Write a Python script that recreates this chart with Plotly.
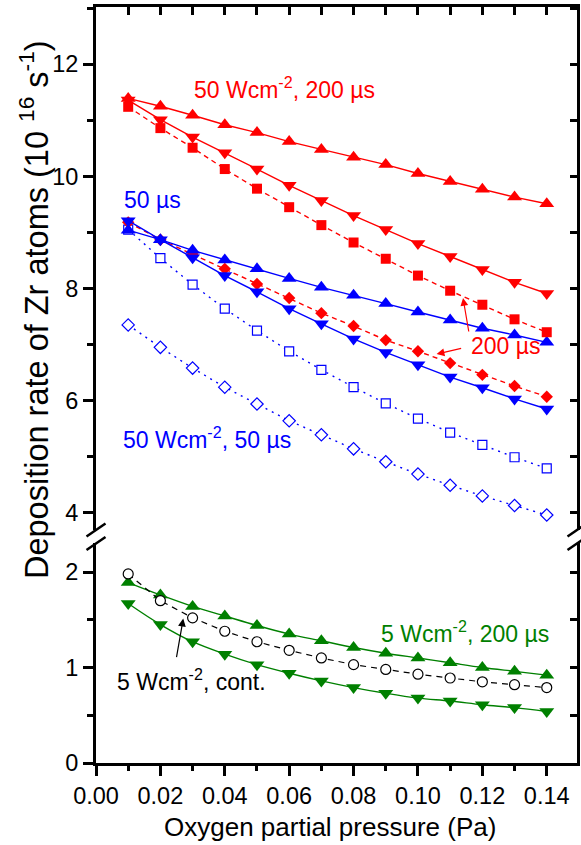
import plotly.graph_objects as go

# ---------------- data ----------------
pressure = [0.01, 0.02, 0.03, 0.04, 0.05, 0.06, 0.07, 0.08, 0.09, 0.10, 0.11, 0.12, 0.13, 0.14]

red_up = [11.39, 11.25, 11.09, 10.92, 10.78, 10.62, 10.48, 10.34, 10.21, 10.05, 9.91, 9.77, 9.63, 9.51]
red_down = [11.36, 11.01, 10.70, 10.42, 10.13, 9.84, 9.57, 9.30, 9.05, 8.80, 8.57, 8.34, 8.11, 7.91]
red_square = [11.24, 10.86, 10.51, 10.13, 9.78, 9.45, 9.13, 8.82, 8.53, 8.23, 7.96, 7.71, 7.45, 7.22]
red_diamond = [9.18, 8.87, 8.61, 8.35, 8.08, 7.83, 7.56, 7.33, 7.08, 6.88, 6.67, 6.46, 6.26, 6.07]

blue_up = [9.04, 8.87, 8.68, 8.51, 8.35, 8.18, 8.02, 7.88, 7.73, 7.58, 7.44, 7.29, 7.17, 7.04]
blue_down = [9.21, 8.87, 8.55, 8.23, 7.94, 7.64, 7.37, 7.10, 6.86, 6.64, 6.42, 6.23, 6.03, 5.85]
blue_open_square = [9.05, 8.54, 8.07, 7.64, 7.25, 6.88, 6.55, 6.24, 5.95, 5.68, 5.43, 5.21, 4.99, 4.79]
blue_open_diamond = [7.35, 6.95, 6.58, 6.24, 5.94, 5.64, 5.39, 5.14, 4.91, 4.69, 4.49, 4.30, 4.13, 3.96]

green_up = [1.89, 1.76, 1.64, 1.54, 1.44, 1.35, 1.28, 1.21, 1.15, 1.10, 1.05, 1.00, 0.96, 0.92]
green_down = [1.67, 1.45, 1.27, 1.14, 1.03, 0.94, 0.86, 0.79, 0.73, 0.68, 0.65, 0.61, 0.58, 0.54]
black_circle = [1.98, 1.70, 1.52, 1.38, 1.27, 1.18, 1.10, 1.03, 0.98, 0.93, 0.89, 0.85, 0.82, 0.79]

# ---------------- styles ----------------
RED = "#FF0000"
BLUE = "#0000FF"
GREEN = "#008000"
BLACK = "#000000"
FONT = "Liberation Sans, Arial, sans-serif"

fig = go.Figure()


def add(y, color, symbol, dash, yaxis, size, fill=None, shape="linear", lw=1.4, mlw=0):
    fig.add_trace(go.Scatter(
        x=pressure, y=y, mode="lines+markers", yaxis=yaxis, xaxis="x",
        line=dict(color=color, width=lw, dash=dash, shape=shape),
        marker=dict(symbol=symbol, size=size, color=fill if fill else color,
                    line=dict(color=color, width=mlw)),
        showlegend=False, cliponaxis=False))


TRI = 13

# top panel (y2)
add(blue_open_diamond, BLUE, "diamond", "2px,5px", "y2", 9.5, fill="white", mlw=1.2)
add(blue_open_square, BLUE, "square", "2px,5px", "y2", 9, fill="white", mlw=1.2)
add(red_diamond, RED, "diamond", "5px,4px", "y2", 9.5)
add(blue_down, BLUE, "triangle-down", "solid", "y2", TRI)
add(blue_up, BLUE, "triangle-up", "solid", "y2", TRI)
add(red_square, RED, "square", "5px,4px", "y2", 10)
add(red_down, RED, "triangle-down", "solid", "y2", TRI)
add(red_up, RED, "triangle-up", "solid", "y2", TRI)

# bottom panel (y)
add(green_down, GREEN, "triangle-down", "solid", "y", TRI, shape="spline")
add(green_up, GREEN, "triangle-up", "solid", "y", TRI, shape="spline")
add(black_circle, BLACK, "circle", "6px,5px", "y", 10, fill="white", mlw=1.2, lw=1.2)

# empty traces so that the mirrored frame axes (top / right) are drawn
for xa, ya in (("x2", "y2"), ("x", "y3"), ("x", "y4")):
    fig.add_trace(go.Scatter(x=[], y=[], xaxis=xa, yaxis=ya, showlegend=False, hoverinfo="skip"))

XR = [0, 0.1494]
YB = [0, 2.304]
YT = [3.69, 13.02]
tickfont = dict(family=FONT, size=23.5, color="black")

common_line = dict(showline=True, linecolor="black", linewidth=3, showgrid=False, zeroline=False)

fig.update_layout(
    width=581, height=845,
    margin=dict(l=96, r=4, t=7, b=82, autoexpand=False),
    paper_bgcolor="white", plot_bgcolor="white",
    font=dict(family=FONT, color="black"),
    xaxis=dict(domain=[0, 1], anchor="y", range=XR, tick0=0, dtick=0.02, tickformat=".2f",
               ticks="outside", ticklen=10, tickwidth=2.5, tickcolor="black", tickfont=tickfont,
               minor=dict(dtick=0.01, tick0=0, ticks="outside", ticklen=5, tickwidth=2.5, tickcolor="black"),
               automargin=False, **common_line),
    xaxis2=dict(overlaying="x", anchor="y2", side="top", range=XR, tick0=0, dtick=0.01,
                ticks="inside", ticklen=8, tickwidth=2.5, tickcolor="black", showticklabels=False,
                automargin=False, **common_line),
    yaxis=dict(domain=[0, 0.291], anchor="x", range=YB, tick0=0, dtick=1,
               ticks="outside", ticklen=10, tickwidth=2.5, tickcolor="black", tickfont=tickfont,
               minor=dict(dtick=0.5, tick0=0, ticks="outside", ticklen=6, tickwidth=2.5, tickcolor="black"),
               automargin=False, **common_line),
    yaxis2=dict(domain=[0.308, 1], anchor="x", range=YT, tick0=0, dtick=2,
                ticks="outside", ticklen=10, tickwidth=2.5, tickcolor="black", tickfont=tickfont,
                minor=dict(dtick=1, tick0=0, ticks="outside", ticklen=6, tickwidth=2.5, tickcolor="black"),
                automargin=False, **common_line),
    yaxis3=dict(overlaying="y", anchor="x", side="right", range=YB, tick0=0, dtick=0.5,
                ticks="inside", ticklen=7, tickwidth=2.5, tickcolor="black", showticklabels=False,
                automargin=False, **common_line),
    yaxis4=dict(overlaying="y2", anchor="x", side="right", range=YT, tick0=0, dtick=1,
                ticks="inside", ticklen=7, tickwidth=2.5, tickcolor="black", showticklabels=False,
                automargin=False, **common_line),
)

# axis break marks (decorations in paper coordinates)
W, H, L, T = 481.0, 756.0, 96.0, 7.0


def px2paper(px, py):
    return (px - L) / W, (T + H - py) / H


for cx in (96.0, 577.0):
    for cy in (530.0, 543.5):
        x0, y0 = px2paper(cx - 9.5, cy + 6.5)
        x1, y1 = px2paper(cx + 9.5, cy - 6.5)
        fig.add_shape(type="line", xref="paper", yref="paper", x0=x0, y0=y0, x1=x1, y1=y1,
                      line=dict(color="black", width=2.5))

ann_font = 23


def label(text, x, y, yref, color):
    fig.add_annotation(text=text, x=x, y=y, xref="x", yref=yref, xanchor="left", yanchor="middle",
                       showarrow=False, font=dict(family=FONT, size=ann_font, color=color))


label("50 Wcm<sup>-2</sup>, 200 µs", 0.0298, 11.57, "y2", RED)
label("50 µs", 0.0080, 9.57, "y2", BLUE)
label("50 Wcm<sup>-2</sup>, 50 µs", 0.0077, 5.33, "y2", BLUE)
label("200 µs", 0.1157, 6.98, "y2", RED)
label("5 Wcm<sup>-2</sup>, cont.", 0.0059, 0.866, "y", BLACK)
label("5 Wcm<sup>-2</sup>, 200 µs", 0.0880, 1.376, "y", GREEN)


def arrow(x, y, yref, ax, ay, color):
    fig.add_annotation(text="", x=x, y=y, xref="x", yref=yref, ax=ax, ay=ay,
                       showarrow=True, arrowhead=2, arrowsize=1.3, arrowwidth=1.2, arrowcolor=color)


arrow(0.1140, 7.83, "y2", 6, 35, RED)
arrow(0.1058, 6.83, "y2", 26, -6, RED)
arrow(0.0271, 1.512, "y", -7, 40, BLACK)

# axis titles
fig.add_annotation(text="Oxygen partial pressure (Pa)", xref="paper", yref="paper",
                   x=(329.5 - L) / W, y=(T + H - 827) / H, xanchor="center", yanchor="middle",
                   showarrow=False, font=dict(family=FONT, size=26, color="black"))
fig.add_annotation(text="Deposition rate of Zr atoms (10 <sup>16</sup> s<sup>-1</sup>)",
                   xref="paper", yref="paper", x=(34 - L) / W, y=(T + H - 310) / H,
                   xanchor="center", yanchor="middle", textangle=-90,
                   showarrow=False, font=dict(family=FONT, size=32.5, color="black"))

fig.write_html("out.html", config={"displayModeBar": False},
               post_script="document.body.style.margin='0';document.body.style.overflow='hidden';")
